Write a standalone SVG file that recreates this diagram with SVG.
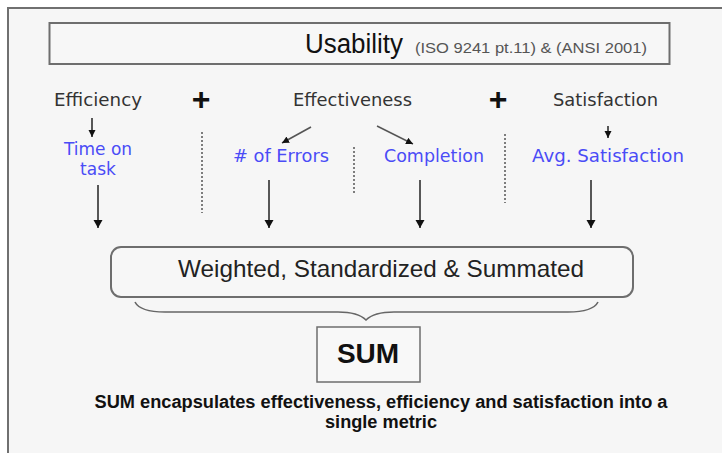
<svg xmlns="http://www.w3.org/2000/svg" width="722" height="453" viewBox="0 0 722 453">
  <style>
    .frame { fill: #f6f6f6; stroke: #707070; stroke-width: 2; }
    .box { fill: #f7f7f7; stroke: #6e6e6e; stroke-width: 2; }
    .head { font-family: "DejaVu Sans", Verdana, sans-serif; font-size: 18px; fill: #333; }
    .plus { font-family: "Liberation Sans", Arial, sans-serif; font-size: 32px; font-weight: bold; fill: #111; }
    .metric { font-family: "DejaVu Sans", Verdana, sans-serif; font-size: 17px; fill: #4a4cf6; }
    .dash { stroke: #555; stroke-width: 1.5; stroke-dasharray: 2 2; fill: none; }
    .arrow { stroke: #222; stroke-width: 1.5; fill: none; }
    .diag { stroke: #555; stroke-width: 1.5; fill: none; }
    .brace { stroke: #666; stroke-width: 1.6; fill: none; }
  </style>
  <defs>
    <marker id="ah" markerUnits="userSpaceOnUse" markerWidth="10" markerHeight="10" refX="8" refY="4.5" orient="auto">
      <path d="M0,0 L8,4.5 L0,9 z" fill="#111"/>
    </marker>
    <marker id="ahs" markerUnits="userSpaceOnUse" markerWidth="10" markerHeight="10" refX="7" refY="3.5" orient="auto">
      <path d="M0,0 L7,3.5 L0,7 z" fill="#111"/>
    </marker>
  </defs>

  <rect width="722" height="453" fill="#ffffff"/>
  <rect class="frame" x="8" y="8" width="730" height="460"/>

  <g id="usability">
    <rect class="box" x="49.5" y="23" width="620" height="41"/>
    <text x="305" y="53" font-family="'Liberation Sans Narrow','Liberation Sans',Arial,sans-serif" font-size="27" fill="#111" textLength="98" lengthAdjust="spacingAndGlyphs">Usability</text>
    <text x="415" y="53" font-family="'Liberation Sans Narrow','Liberation Sans',Arial,sans-serif" font-size="15" fill="#555" textLength="232" lengthAdjust="spacingAndGlyphs">(ISO 9241 pt.11) &amp; (ANSI 2001)</text>
  </g>

  <g id="efficiency">
    <text class="head" x="54" y="106" textLength="88" lengthAdjust="spacingAndGlyphs">Efficiency</text>
  </g>
  <g id="plus1"><text class="plus" x="201" y="110" text-anchor="middle">+</text></g>
  <g id="effectiveness">
    <text class="head" x="293" y="106" textLength="119" lengthAdjust="spacingAndGlyphs">Effectiveness</text>
  </g>
  <g id="plus2"><text class="plus" x="498" y="110" text-anchor="middle">+</text></g>
  <g id="satisfaction">
    <text class="head" x="553" y="106" textLength="105" lengthAdjust="spacingAndGlyphs">Satisfaction</text>
  </g>

  <g id="time-on-task">
    <text class="metric" x="98" y="155" text-anchor="middle">Time on</text>
    <text class="metric" x="98" y="175" text-anchor="middle">task</text>
  </g>
  <g id="errors">
    <text class="metric" x="233" y="162" textLength="96" lengthAdjust="spacingAndGlyphs"># of Errors</text>
  </g>
  <g id="completion">
    <text class="metric" x="384" y="162" textLength="100" lengthAdjust="spacingAndGlyphs">Completion</text>
  </g>
  <g id="avg-satisfaction">
    <text class="metric" x="532" y="162" textLength="152" lengthAdjust="spacingAndGlyphs">Avg. Satisfaction</text>
  </g>

  <g id="weighted">
    <rect class="box" x="111" y="247" width="522" height="50" rx="10" ry="10"/>
    <text x="381" y="277" text-anchor="middle" font-family="'Liberation Sans',Arial,sans-serif" font-size="24" fill="#222" textLength="406" lengthAdjust="spacingAndGlyphs">Weighted, Standardized &amp; Summated</text>
  </g>

  <g id="sum">
    <rect x="317" y="327" width="103" height="55" fill="#f8f8f8" stroke="#6e6e6e" stroke-width="1.5"/>
    <text x="368" y="363" text-anchor="middle" font-family="'Liberation Sans',Arial,sans-serif" font-size="28" font-weight="bold" fill="#111">SUM</text>
  </g>

  <g id="caption" font-family="'Liberation Sans',Arial,sans-serif" font-size="18" font-weight="bold" fill="#111" text-anchor="middle">
    <text x="381" y="408" textLength="573" lengthAdjust="spacingAndGlyphs">SUM encapsulates effectiveness, efficiency and satisfaction into a</text>
    <text x="381" y="428" textLength="112" lengthAdjust="spacingAndGlyphs">single metric</text>
  </g>

  <g id="connectors">
    <line class="arrow" x1="92" y1="118" x2="92" y2="137" marker-end="url(#ahs)"/>
    <line class="arrow" x1="608" y1="126" x2="608" y2="138" marker-end="url(#ahs)"/>
    <line class="diag" x1="311" y1="127" x2="282" y2="143" marker-end="url(#ahs)"/>
    <line class="diag" x1="377" y1="126" x2="413" y2="144" marker-end="url(#ahs)"/>

    <line class="dash" x1="202" y1="132" x2="202" y2="213"/>
    <line class="dash" x1="354" y1="147" x2="354" y2="193"/>
    <line class="dash" x1="505" y1="134" x2="505" y2="203"/>

    <line class="arrow" x1="98" y1="185" x2="98" y2="228" marker-end="url(#ah)"/>
    <line class="arrow" x1="269" y1="180" x2="269" y2="228" marker-end="url(#ah)"/>
    <line class="arrow" x1="420" y1="180" x2="420" y2="228" marker-end="url(#ah)"/>
    <line class="arrow" x1="591" y1="180" x2="591" y2="228" marker-end="url(#ah)"/>

    <path class="brace" d="M135,302 Q140,312 165,312 L338,312 Q358,312 366,320 Q374,312 394,312 L568,312 Q593,312 598,302"/>
  </g>
</svg>
